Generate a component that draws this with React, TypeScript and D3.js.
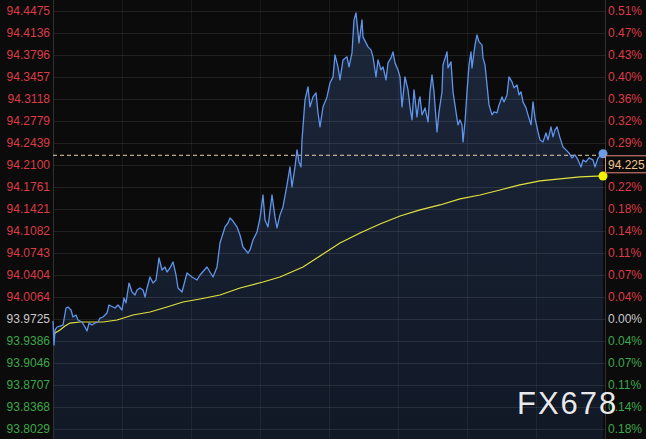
import { useEffect, useRef } from "react";
import * as d3 from "d3";

const BASE_PRICE = 93.9725;
const LAST_PRICE = 94.225;

// left axis labels (price), right axis shows the % change from BASE_PRICE
const priceTicks = [
  94.4475, 94.4136, 94.3796, 94.3457, 94.3118, 94.2779, 94.2439, 94.21,
  94.1761, 94.1421, 94.1082, 94.0743, 94.0404, 94.0064, 93.9725, 93.9386,
  93.9046, 93.8707, 93.8368, 93.8029,
];

// minutes since open where the vertical grid lines sit
const timeTicks = [69, 138, 207, 276, 345, 414, 483];

// [minute, price]
const priceSeries: [number, number][] = [
  [0, 93.9694], [1, 93.9324], [2, 93.9555], [4, 93.9602], [7, 93.9617],
  [10, 93.9632], [13, 93.9895], [15, 93.991], [18, 93.9864], [20, 93.9756],
  [23, 93.9787], [25, 93.971], [29, 93.9679], [32, 93.9602], [34, 93.954],
  [36, 93.9663], [39, 93.9632], [42, 93.9663], [45, 93.9679], [47, 93.974],
  [50, 93.9756], [54, 93.9818], [56, 93.9941], [60, 93.991], [62, 93.9895],
  [65, 93.9941], [69, 93.9864], [71, 94.0049], [73, 93.9972], [76, 94.028],
  [79, 94.0142], [82, 94.0095], [84, 94.0172], [87, 94.0203], [90, 94.0172],
  [92, 94.0064], [94, 94.0203], [97, 94.0373], [100, 94.028], [103, 94.0327],
  [106, 94.0666], [109, 94.0481], [112, 94.0527], [114, 94.045], [117, 94.0512],
  [120, 94.0605], [123, 94.0404], [125, 94.0203], [127, 94.0172], [129, 94.0142],
  [134, 94.0435], [139, 94.0373], [144, 94.0327], [147, 94.0404], [154, 94.0527],
  [157, 94.045], [160, 94.0373], [164, 94.0527], [167, 94.0898], [172, 94.1145],
  [175, 94.1206], [177, 94.1283], [179, 94.1253], [184, 94.1145], [187, 94.1021],
  [190, 94.0836], [195, 94.0743], [197, 94.079], [200, 94.0944], [204, 94.1067],
  [207, 94.1283], [210, 94.1638], [212, 94.1253], [215, 94.1145], [219, 94.1638],
  [222, 94.1299], [224, 94.1129], [227, 94.133], [230, 94.1453], [234, 94.1793],
  [237, 94.207], [239, 94.1762], [242, 94.207], [244, 94.2333], [246, 94.2148],
  [248, 94.207], [249, 94.2487], [252, 94.3104], [255, 94.3305], [257, 94.2996],
  [260, 94.315], [263, 94.3212], [265, 94.2904], [267, 94.2688], [270, 94.2996],
  [274, 94.315], [277, 94.3366], [280, 94.3459], [282, 94.3799], [285, 94.3613],
  [287, 94.3413], [290, 94.3721], [294, 94.3768], [296, 94.3613], [299, 94.3829],
  [301, 94.4339], [303, 94.4447], [305, 94.4138], [306, 94.3984], [309, 94.4339],
  [310, 94.4076], [313, 94.3984], [315, 94.3922], [318, 94.3876], [320, 94.3768],
  [323, 94.3459], [325, 94.3721], [328, 94.3567], [330, 94.3613], [333, 94.3413],
  [335, 94.3675], [338, 94.3752], [340, 94.3845], [342, 94.3675], [345, 94.3567],
  [347, 94.3459], [349, 94.2996], [352, 94.3459], [355, 94.3258], [357, 94.2996],
  [359, 94.2796], [361, 94.3258], [364, 94.2842], [366, 94.3104], [367, 94.315],
  [369, 94.2873], [372, 94.2981], [375, 94.2765], [377, 94.3228], [379, 94.349],
  [381, 94.3228], [384, 94.261], [386, 94.2919], [389, 94.3228], [390, 94.3644],
  [394, 94.3845], [395, 94.3598], [398, 94.3691], [400, 94.3228], [403, 94.2919],
  [405, 94.2718], [407, 94.2796], [409, 94.2718], [410, 94.2456], [412, 94.2765],
  [414, 94.3228], [416, 94.3644], [418, 94.3845], [419, 94.3598], [422, 94.3953],
  [424, 94.4107], [426, 94.3999], [429, 94.3953], [430, 94.3752], [432, 94.3644],
  [434, 94.3336], [436, 94.3027], [439, 94.2873], [441, 94.2919], [444, 94.2904],
  [446, 94.3027], [449, 94.315], [451, 94.3073], [454, 94.3181], [456, 94.3459],
  [459, 94.3382], [461, 94.3289], [464, 94.3336], [466, 94.3181], [468, 94.3228],
  [470, 94.3073], [473, 94.2981], [475, 94.2873], [478, 94.2718], [480, 94.3073],
  [482, 94.2826], [485, 94.261], [487, 94.2487], [490, 94.2456], [493, 94.2595],
  [495, 94.2487], [498, 94.2688], [500, 94.2533], [502, 94.2641], [504, 94.2688],
  [507, 94.2518], [510, 94.2379], [513, 94.2333], [516, 94.2286], [519, 94.2209],
  [522, 94.2256], [525, 94.2178], [528, 94.207], [530, 94.2178], [533, 94.2148],
  [536, 94.2209], [540, 94.2178], [542, 94.207], [545, 94.2209], [548, 94.2256],
  [550, 94.225],
];

// [minute, price]
const avgSeries: [number, number][] = [
  [1, 93.9478], [2, 93.9509], [7, 93.9555], [12, 93.9617], [17, 93.9663],
  [27, 93.9679], [40, 93.9679], [50, 93.9679], [64, 93.971], [80, 93.9787],
  [97, 93.9833], [114, 93.991], [130, 93.9987], [147, 94.0034], [167, 94.0095],
  [187, 94.0203], [210, 94.0296], [227, 94.0373], [250, 94.0527], [267, 94.0697],
  [287, 94.0898], [307, 94.1052], [327, 94.1191], [347, 94.1314], [367, 94.1407],
  [387, 94.1484], [407, 94.1577], [427, 94.1638], [447, 94.1715], [467, 94.1793],
  [487, 94.1854], [507, 94.1885], [527, 94.1916], [550, 94.1931],
];

const WIDTH = 646;
const HEIGHT = 439;
const RED = "#dc3b47";
const GREEN = "#3fa64b";
const GREY = "#c9c9c9";

function tickColor(v: number) {
  const diff = Math.round((v - BASE_PRICE) * 10000);
  if (diff > 0) return RED;
  if (diff < 0) return GREEN;
  return GREY;
}

export default function App() {
  const chartRef = useRef<SVGSVGElement | null>(null);

  useEffect(() => {
    if (!chartRef.current) return;
    document.body.style.margin = "0";
    document.body.style.background = "#0b0b0b";

    const plot = { left: 53, right: 605, top: 0, bottom: HEIGHT };

    const root = d3.select(chartRef.current);
    root.selectAll("*").remove();
    const svg = root.attr("width", WIDTH).attr("height", HEIGHT);

    // 1) scales
    const xScale = d3.scaleLinear().domain([0, 550]).range([53, 603]);
    const yScale = d3
      .scaleLinear()
      .domain([93.8029, 94.4475])
      .range([429, 11]);

    // 2) background
    svg
      .append("rect")
      .attr("width", WIDTH)
      .attr("height", HEIGHT)
      .attr("fill", "#0b0b0b");

    // 3) area gradient under the price line
    const defs = svg.append("defs");
    const grad = defs
      .append("linearGradient")
      .attr("id", "areaFill")
      .attr("x1", 0)
      .attr("y1", 0)
      .attr("x2", 0)
      .attr("y2", 1);
    grad.append("stop").attr("offset", "0%").attr("stop-color", "#1c273a");
    grad.append("stop").attr("offset", "100%").attr("stop-color", "#111826");

    const area = d3
      .area<[number, number]>()
      .x((d) => xScale(d[0]))
      .y0(plot.bottom)
      .y1((d) => yScale(d[1]));

    svg
      .append("path")
      .datum(priceSeries)
      .attr("d", area)
      .attr("fill", "url(#areaFill)");

    // 4) grid lines (drawn over the area, like the original)
    svg
      .append("g")
      .selectAll("line")
      .data(priceTicks)
      .join("line")
      .attr("x1", plot.left)
      .attr("x2", plot.right)
      .attr("y1", (d) => Math.round(yScale(d)) + 0.5)
      .attr("y2", (d) => Math.round(yScale(d)) + 0.5)
      .attr("stroke", "rgba(255,255,255,0.09)");

    svg
      .append("g")
      .selectAll("line")
      .data(timeTicks)
      .join("line")
      .attr("x1", (d) => Math.round(xScale(d)) + 0.5)
      .attr("x2", (d) => Math.round(xScale(d)) + 0.5)
      .attr("y1", plot.top)
      .attr("y2", plot.bottom)
      .attr("stroke", "rgba(255,255,255,0.06)");

    // axis borders
    [plot.left, plot.right].forEach((x) => {
      svg
        .append("line")
        .attr("x1", x + 0.5)
        .attr("x2", x + 0.5)
        .attr("y1", plot.top)
        .attr("y2", plot.bottom)
        .attr("stroke", "#303030");
    });

    // 5) last price dashed line
    const lastY = yScale(LAST_PRICE);
    svg
      .append("line")
      .attr("x1", plot.left)
      .attr("x2", plot.right)
      .attr("y1", lastY)
      .attr("y2", lastY)
      .attr("stroke", "#e9cfa6")
      .attr("stroke-width", 1)
      .attr("stroke-dasharray", "4,3");

    // 6) lines
    const line = d3
      .line<[number, number]>()
      .x((d) => xScale(d[0]))
      .y((d) => yScale(d[1]));

    svg
      .append("path")
      .datum(avgSeries)
      .attr("d", line)
      .attr("fill", "none")
      .attr("stroke", "#e2e23c")
      .attr("stroke-width", 1.2);

    svg
      .append("path")
      .datum(priceSeries)
      .attr("d", line)
      .attr("fill", "none")
      .attr("stroke", "#5f94ea")
      .attr("stroke-width", 1.3)
      .attr("stroke-linejoin", "round");

    // end dots
    const lastP = priceSeries[priceSeries.length - 1];
    const lastA = avgSeries[avgSeries.length - 1];
    svg
      .append("circle")
      .attr("cx", xScale(lastP[0]))
      .attr("cy", yScale(lastP[1]) - 1.5)
      .attr("r", 4.5)
      .attr("fill", "#6a9de8");
    svg
      .append("circle")
      .attr("cx", xScale(lastA[0]))
      .attr("cy", yScale(lastA[1]))
      .attr("r", 4.5)
      .attr("fill", "#f2f200");

    // 7) left axis (price)
    const font = "'Liberation Sans', Arial, sans-serif";
    svg
      .append("g")
      .selectAll("text")
      .data(priceTicks)
      .join("text")
      .attr("x", 50)
      .attr("y", (d) => yScale(d))
      .attr("dy", "0.36em")
      .attr("text-anchor", "end")
      .attr("font-family", font)
      .attr("font-size", 12)
      .attr("fill", (d) => tickColor(d))
      .text((d) => d.toFixed(4));

    // 8) right axis (% from base); the label hidden behind the price tag is skipped
    const tagTop = lastY;
    const tagBottom = lastY + 18;
    svg
      .append("g")
      .selectAll("text")
      .data(priceTicks.filter((d) => {
        const y = yScale(d);
        return y < tagTop - 6 || y > tagBottom + 6;
      }))
      .join("text")
      .attr("x", 608)
      .attr("y", (d) => yScale(d))
      .attr("dy", "0.36em")
      .attr("font-family", font)
      .attr("font-size", 12)
      .attr("fill", (d) => tickColor(d))
      .text(
        (d) => Math.abs(((d - BASE_PRICE) / BASE_PRICE) * 100).toFixed(2) + "%"
      );

    // 9) last price tag
    svg
      .append("rect")
      .attr("x", 605.5)
      .attr("y", lastY + 0.5)
      .attr("width", 44)
      .attr("height", 17)
      .attr("fill", "#0b0b0b")
      .attr("stroke", "#e8897c");
    svg
      .append("text")
      .attr("x", 608)
      .attr("y", lastY + 9)
      .attr("dy", "0.36em")
      .attr("font-family", font)
      .attr("font-size", 12)
      .attr("fill", "#f2c48e")
      .text(LAST_PRICE.toFixed(3));

    // 10) watermark
    svg
      .append("text")
      .attr("x", 517)
      .attr("y", 414)
      .attr("font-family", font)
      .attr("font-size", 31)
      .attr("letter-spacing", 2)
      .attr("fill", "#ffffff")
      .attr("fill-opacity", 0.92)
      .text("FX678");
  }, []);

  return (
    <div style={{ position: "absolute", left: 0, top: 0 }}>
      <svg ref={chartRef} width={WIDTH} height={HEIGHT} style={{ display: "block" }} />
    </div>
  );
}
